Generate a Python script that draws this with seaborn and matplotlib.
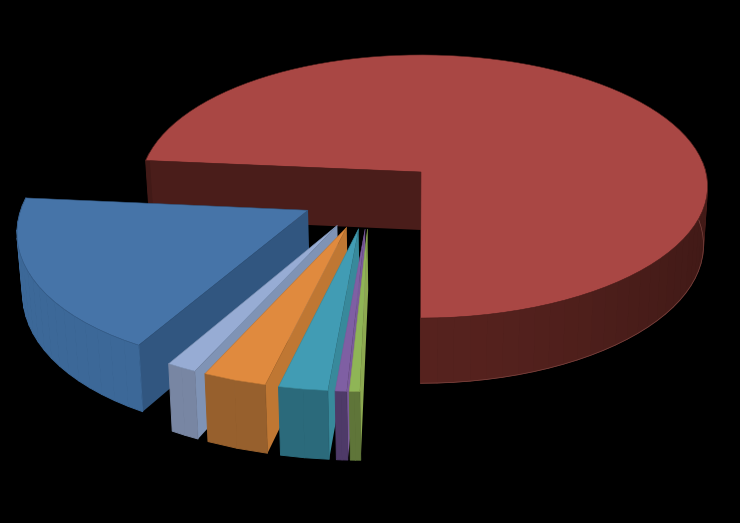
import numpy as np
import matplotlib
matplotlib.use("Agg")
import matplotlib.pyplot as plt
import seaborn as sns
from matplotlib.collections import PolyCollection

# slice shares in percent, clockwise from the front of the pie
slice_names = ["green", "purple", "teal", "orange", "light blue", "blue", "red"]
slice_values = [0.5, 0.55, 2.4, 3.15, 1.5, 18.3, 73.6]

# colours: top face, radial wall, outer rim
top_colors = sns.color_palette(["#8fb556", "#7f5fa3", "#419cb4", "#e08a3e", "#97acd4", "#4674a8", "#a94744"])
wall_colors = sns.color_palette(["#8ca850", "#7a5a9a", "#38899b", "#bf7733", "#7f93b5", "#315680", "#4a1d1a"])
rim_colors = sns.color_palette(["#5f7539", "#4e3a68", "#2b6a7b", "#97602d", "#7886a3", "#3c6898", "#421a17"])

explode_u, explode_v = 0.24, 0.25
tilt_k = 0.11
scale_u, scale_v, depth = 282, 130, 58
apex_x, apex_y = 421, 172
start_angle = np.radians(0.1)

sns.set_theme(style="dark", rc={"figure.facecolor": "black", "axes.facecolor": "black"})


def project(u, v, z=0.0):
    w = 1 - tilt_k * v
    sx = apex_x + scale_u * (1 + 0.01 * u) * u / w * (1 - 0.014 * z)
    sy = apex_y + scale_v * v / w + depth * z / w
    return np.column_stack([sx, sy])


def area(poly):
    x, y = poly[:, 0], poly[:, 1]
    return 0.5 * np.sum(x * np.roll(y, -1) - np.roll(x, -1) * y)


fig = plt.figure(figsize=(7.4, 5.23), dpi=100)
ax = fig.add_axes([0, 0, 1, 1])
ax.set_xlim(0, 740)
ax.set_ylim(523, 0)
ax.axis("off")

values = np.array(slice_values)
edges = np.concatenate([[0], np.cumsum(values)]) / values.sum() * 2 * np.pi + start_angle
mids = (edges[:-1] + edges[1:]) / 2
n = len(values)

# the whole pie is shifted so the red slice tip sits at the projection origin
cu = explode_u * np.sin(mids[-1])
cv = -explode_v * np.cos(mids[-1])

for i in reversed(range(n)):
    base_z = (n - i) * 3
    radius = 1.0 if i == n - 1 else 1.005
    off_u = cu - explode_u * np.sin(mids[i])
    off_v = cv + explode_v * np.cos(mids[i])
    phi = np.linspace(edges[i], edges[i + 1], max(3, int(np.degrees(edges[i + 1] - edges[i])) // 3))
    arc_u = off_u - radius * np.sin(phi)
    arc_v = off_v + radius * np.cos(phi)

    # radial walls, only where they face the viewer
    for end in (phi[0], phi[-1]):
        eu, ev = off_u - radius * np.sin(end), off_v + radius * np.cos(end)
        us, vs = np.array([off_u, eu]), np.array([off_v, ev])
        quad = np.vstack([project(us, vs), project(us, vs, 1.0)[::-1]])
        front = area(quad) < 0 if end == phi[0] else area(quad) > 0
        if front or i == n - 1:
            ax.add_patch(plt.Polygon(quad, closed=True, fc=wall_colors[i], ec="none", zorder=base_z))

    # outer rim, with a little shading on the red slice near the front
    top = project(arc_u, arc_v)
    bottom = project(arc_u, arc_v, 1.0)
    quads, cols = [], []
    for j in range(len(phi) - 1):
        if np.cos(phi[j]) < -0.12:
            continue
        m = 1.0
        if i == n - 1:
            m = 1 + 0.3 * max(np.cos(phi[j]), 0) ** 3
        quads.append(np.array([top[j], top[j + 1], bottom[j + 1], bottom[j]]))
        cols.append(tuple(min(1, c * m) for c in rim_colors[i]))
    if quads:
        ax.add_collection(PolyCollection(quads, facecolors=cols, edgecolors=cols, linewidths=0.7, zorder=base_z + 1))
    if i == n - 1:
        # thin light line under the red rim, right hand part of the arc only
        keep = (np.cos(phi) > -0.12) & (phi > np.pi)
        ax.plot(bottom[keep, 0], bottom[keep, 1], color="#7d4540", lw=0.5, zorder=base_z + 1)

    # top face
    outline = np.vstack([project(np.array([off_u]), np.array([off_v])), top])
    ax.add_patch(plt.Polygon(outline, closed=True, fc=top_colors[i], ec=wall_colors[i], lw=0.4, zorder=base_z + 2))

fig.savefig("out.png", dpi=100, facecolor="black")
